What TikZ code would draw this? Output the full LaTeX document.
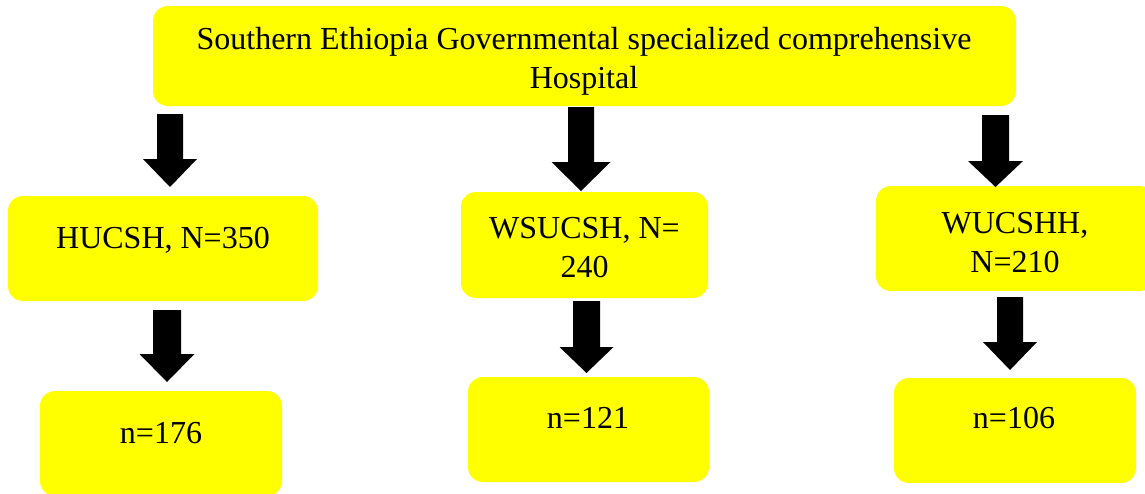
\documentclass[tikz,border=0pt]{standalone}
\usepackage{fontspec}
\setmainfont{Liberation Serif}
\definecolor{boxyellow}{HTML}{FFFF00}
\tikzset{
  ybox/.style={rectangle, rounded corners=15pt, fill=boxyellow, draw=none, inner sep=0pt},
  txt/.style={font=\fontsize{32}{39}\selectfont, inner sep=0pt, align=center, anchor=base},
  pics/darrow/.style n args={4}{code={
    \fill[black] (-#3,0) -- (#3,0) -- (#3,{#1-#2}) -- (#4,{#1-#2}) -- (0,#1)
      -- (-#4,{#1-#2}) -- (-#3,{#1-#2}) -- cycle;
  }}
}
\begin{document}
\begin{tikzpicture}[x=1pt,y=-1pt]
\useasboundingbox (0,0) rectangle (1145,493);
\clip (0,0) rectangle (1145,493);
% boxes
\node[ybox, minimum width=863pt, minimum height=100pt] (top) at (584.5,56) {};
\node[ybox, minimum width=310pt, minimum height=105pt] (h1) at (163,248.5) {};
\node[ybox, minimum width=247pt, minimum height=106pt] (h2) at (584.5,245) {};
\node[ybox, minimum width=278pt, minimum height=105pt] (h3) at (1015,238.5) {};
\node[ybox, minimum width=242pt, minimum height=105pt] (n1) at (161,443.5) {};
\node[ybox, minimum width=241pt, minimum height=105pt] (n2) at (588.5,429.5) {};
\node[ybox, minimum width=242pt, minimum height=105pt] (n3) at (1015,430.5) {};
% texts
\node[txt] (ttop) at (584,88) {Southern Ethiopia Governmental specialized comprehensive\\Hospital};
\node[txt] (th1) at (163,248) {HUCSH, N=350};
\node[txt] (th2) at (584.5,277) {WSUCSH, N=\\240};
\node[txt] (th3) at (1015,272) {WUCSHH,\\N=210};
\node[txt] (tn1) at (161,443) {n=176};
\node[txt] (tn2) at (588,428) {n=121};
\node[txt] (tn3) at (1014,428) {n=106};
% block arrows
\pic at (170,114) {darrow={73}{28}{13}{27}};
\pic at (581,107) {darrow={84}{29}{13}{29.5}};
\pic at (995.5,115) {darrow={72}{26}{13.5}{27.5}};
\pic at (167,310) {darrow={72}{28}{14}{27.5}};
\pic at (586.5,301) {darrow={72}{26}{13.5}{27}};
\pic at (1010,297) {darrow={73}{28}{13}{27}};
\end{tikzpicture}
\end{document}
